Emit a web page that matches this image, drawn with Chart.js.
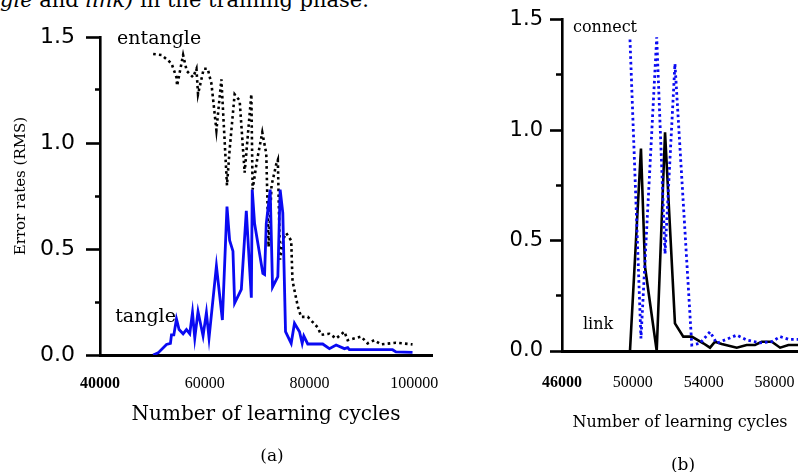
<!DOCTYPE html>
<html>
<head>
<meta charset="utf-8">
<script src="https://cdn.jsdelivr.net/npm/chart.js@4.4.0/dist/chart.umd.min.js"></script>
<style>
  html, body { margin: 0; padding: 0; background: #fff; }
  body { width: 798px; height: 472px; position: relative; overflow: hidden; }
  canvas { position: absolute; top: 0; }
  #chartA { left: 0; }
  #chartB { left: 500px; }
  .txt { position: absolute; white-space: nowrap; color: #000; font-family: "DejaVu Serif", serif; }
</style>
</head>
<body>
<div class="txt" style="left:0;top:-10px;font-size:21px;line-height:21px;"><i>gle</i> and <i>link)</i> in the training phase.</div>
<canvas id="chartA" width="500" height="472"></canvas>
<canvas id="chartB" width="298" height="472"></canvas>
<div class="txt" style="left:-80px;top:176px;width:200px;height:20px;line-height:20px;text-align:center;font-size:15px;transform:rotate(-90deg);">Error rates (RMS)</div>
<div class="txt" style="left:242px;top:445px;width:60px;line-height:20px;text-align:center;font-size:17px;">(a)</div>
<div class="txt" style="left:653px;top:454px;width:60px;line-height:20px;text-align:center;font-size:17px;">(b)</div>
<script>
// ---- (a) entangle / tangle ----
const entangleCycles = [50150, 51750, 53650, 54600, 54720, 55870, 56570, 57770, 58420, 58720,
  59810, 60570, 61280, 62230, 63180, 64250, 64760, 65710, 66670, 67620,
  68900, 69140, 70000, 70990, 71750, 72190, 72760, 73660, 73960, 74380,
  75050, 75560, 76510, 76760, 77770, 78400, 79670, 81580, 82230, 83810,
  85090, 86670, 87300, 89850, 91100, 92380, 93660, 96510, 99680];
const entangleRms = [1.42, 1.415, 1.376, 1.31, 1.27, 1.415, 1.34, 1.31, 1.35, 1.23,
  1.35, 1.35, 1.28, 1.06, 1.30, 0.80, 0.97, 1.23, 1.20, 0.86,
  1.23, 0.78, 0.92, 1.05, 0.95, 0.51, 0.80, 0.90, 0.92, 0.45,
  0.55, 0.575, 0.54, 0.35, 0.23, 0.18, 0.18, 0.13, 0.095, 0.10,
  0.078, 0.11, 0.07, 0.087, 0.055, 0.07, 0.05, 0.058, 0.05];

const tangleCycles = [50150, 51100, 52700, 53450, 53650, 54100, 54600, 55100, 55870, 56510,
  57140, 57660, 58100, 58720, 59680, 60320, 60820, 62230, 63370, 64250,
  64760, 65390, 65710, 66990, 67940, 68900, 69070, 69520, 71100, 71430,
  71750, 72500, 72950, 73960, 74400, 74910, 75430, 76510, 77140, 78100,
  78610, 78920, 79670, 82530, 83810, 85090, 86670, 87300, 87620, 95870,
  96510, 99680];
const tangleRms = [0.0, 0.01, 0.05, 0.055, 0.095, 0.095, 0.17, 0.12, 0.10, 0.12,
  0.10, 0.20, 0.08, 0.205, 0.09, 0.20, 0.08, 0.42, 0.165, 0.70,
  0.54, 0.49, 0.245, 0.31, 0.68, 0.27, 0.78, 0.62, 0.385, 0.38,
  0.62, 0.78, 0.32, 0.37, 0.78, 0.67, 0.11, 0.055, 0.15, 0.11,
  0.055, 0.09, 0.052, 0.052, 0.03, 0.047, 0.03, 0.035, 0.025, 0.025,
  0.015, 0.012];

// ---- (b) connect / link ----
const linkCycles = [49840, 50460, 50690, 51350, 51820, 52380, 52850, 53330, 53980, 54360,
  54640, 55020, 55870, 56430, 56900, 57280, 57850, 58320, 58790, 59330];
const linkRms = [0.0, 0.916, 0.38, 0.0, 0.99, 0.125, 0.065, 0.065, 0.035, 0.015,
  0.042, 0.032, 0.015, 0.027, 0.027, 0.042, 0.042, 0.015, 0.027, 0.027];

const connectCycles = [49840, 50460, 51350, 51820, 52380, 53330, 53800, 54360, 54740, 55870,
  56430, 57190, 57850, 58320, 58790, 59330];
const connectRms = [1.41, 0.057, 1.42, 0.44, 1.30, 0.027, 0.035, 0.087, 0.035, 0.072,
  0.05, 0.037, 0.042, 0.065, 0.053, 0.053];

// ---- axes ----
const yTicks = [0, 0.5, 1.0, 1.5];
const yMinorTicks = [0.25, 0.75, 1.25];
const xTicksA = [40000, 60000, 80000, 100000];
const xTicksB = [46000, 50000, 54000, 58000];

const BLUE = '#0a0af2';
const pts = (xs, ys) => xs.map((x, i) => ({ x, y: ys[i] }));

// Writes the curve names next to their curves, placed through the chart scales
const curveNames = {
  id: 'curveNames',
  afterDatasetsDraw(chart, args, opts) {
    const { ctx, scales: { x, y } } = chart;
    ctx.save();
    ctx.font = opts.font;
    ctx.fillStyle = '#000';
    ctx.textAlign = 'left';
    ctx.textBaseline = 'middle';
    for (const n of opts.items) {
      ctx.fillText(n.text, x.getPixelForValue(n.x), y.getPixelForValue(n.y));
    }
    ctx.restore();
  }
};

function yAxis(o) {
  return {
    type: 'linear', min: 0, max: 1.5,
    afterFit: s => { s.width = o.width; },
    afterBuildTicks: s => {
      s.ticks = [...yTicks, ...yMinorTicks].sort((a, b) => a - b).map(v => ({ value: v }));
    },
    border: { display: true, color: '#000', width: 2.6 },
    grid: {
      drawOnChartArea: false, drawTicks: true,
      tickLength: o.tick, tickWidth: 2.6, tickColor: '#000',
      tickBorderDash: c => (c.tick && yTicks.includes(c.tick.value)) ? [] : [0, o.tick - o.minor, o.minor, 200]
    },
    ticks: {
      autoSkip: false, padding: o.pad, color: '#000',
      font: { family: 'DejaVu Sans', size: o.font },
      callback: v => yTicks.includes(v) ? v.toFixed(1) : ''
    }
  };
}

function xAxis(o) {
  return {
    type: 'linear', min: o.min, max: o.max,
    afterFit: s => { s.height = o.height; s.paddingLeft = 0; s.paddingRight = 0; },
    afterBuildTicks: s => { s.ticks = o.ticks.map(v => ({ value: v })); },
    border: { display: true, color: '#000', width: 3 },
    grid: { display: false, drawOnChartArea: false, drawTicks: false },
    ticks: {
      autoSkip: false, maxRotation: 0, padding: o.pad, color: '#000',
      font: c => ({ family: 'Liberation Serif', size: 16, weight: c.index === 0 ? 'bold' : 'normal' }),
      callback: v => String(v)
    },
    title: {
      display: true, text: 'Number of learning cycles', color: '#000',
      font: { family: 'DejaVu Serif', size: o.titleSize },
      padding: { top: 0, bottom: o.titlePad }
    }
  };
}

const common = {
  responsive: false,
  animation: false,
  events: [],
  elements: { point: { radius: 0 }, line: { tension: 0, fill: false } },
};

new Chart(document.getElementById('chartA'), {
  type: 'line',
  data: {
    datasets: [
      { label: 'tangle', data: pts(tangleCycles, tangleRms), borderColor: BLUE, borderWidth: 2.8 },
      { label: 'entangle', data: pts(entangleCycles, entangleRms), borderColor: '#000', borderWidth: 2.6, borderDash: [2.6, 3.2] }
    ]
  },
  options: {
    ...common,
    layout: { padding: { top: 37, right: 68, bottom: 0, left: 0 } },
    scales: {
      x: xAxis({ min: 40000, max: 103400, ticks: xTicksA, height: 117, pad: 19, titleSize: 20, titlePad: 45 }),
      y: yAxis({ width: 100, tick: 14, minor: 5, pad: 11, font: 22 })
    },
    plugins: {
      legend: { display: false }, tooltip: { enabled: false },
      curveNames: {
        font: '19px "DejaVu Serif"',
        items: [{ text: 'entangle', x: 43250, y: 1.49 }, { text: 'tangle', x: 42900, y: 0.177 }]
      }
    }
  },
  plugins: [curveNames]
});

new Chart(document.getElementById('chartB'), {
  type: 'line',
  data: {
    datasets: [
      { label: 'connect', data: pts(connectCycles, connectRms), borderColor: BLUE, borderWidth: 2.8, borderDash: [2.6, 3] },
      { label: 'link', data: pts(linkCycles, linkRms), borderColor: '#000', borderWidth: 2.6 }
    ]
  },
  options: {
    ...common,
    layout: { padding: { top: 18, right: 0, bottom: 0, left: 0 } },
    scales: {
      x: xAxis({ min: 46000, max: 59330, ticks: xTicksB, height: 121, pad: 22, titleSize: 16, titlePad: 40 }),
      y: yAxis({ width: 62, tick: 12, minor: 6, pad: 7, font: 21 })
    },
    plugins: {
      legend: { display: false }, tooltip: { enabled: false },
      curveNames: {
        font: '16px "DejaVu Serif"',
        items: [{ text: 'connect', x: 46620, y: 1.462 }, { text: 'link', x: 47180, y: 0.117 }]
      }
    }
  },
  plugins: [curveNames]
});
</script>
</body>
</html>
